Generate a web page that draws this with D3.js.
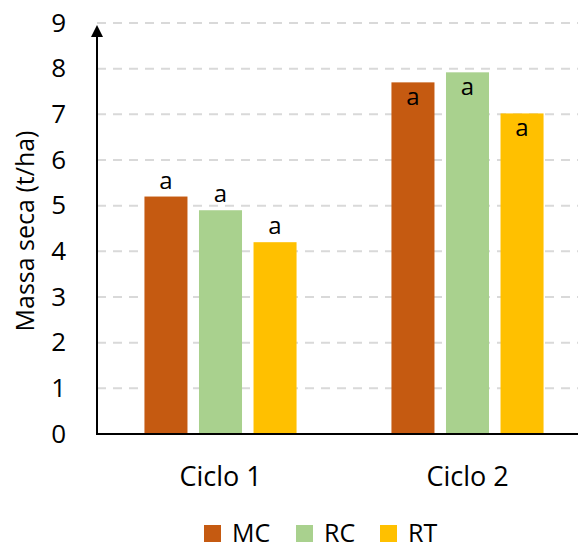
<!DOCTYPE html>
<html>
<head>
<meta charset="utf-8">
<script src="https://cdn.jsdelivr.net/npm/d3@7"></script>
<style>
  html, body { margin: 0; padding: 0; background: #fff; }
  svg { display: block; }
  text { font-family: "Open Sans", "Noto Sans", sans-serif; fill: #000; }
</style>
</head>
<body>
<svg id="chart" width="580" height="551"></svg>
<script>
// Dry mass (t/ha) per cycle and management
const cycles = ["Ciclo 1", "Ciclo 2"];
const treatments = ["MC", "RC", "RT"];
const valuesMC = [5.2, 7.7];
const valuesRC = [4.9, 7.92];
const valuesRT = [4.2, 7.02];
const letters = [["a", "a", "a"], ["a", "a", "a"]];
const yTicks = [0, 1, 2, 3, 4, 5, 6, 7, 8, 9];
const yTitle = "Massa seca (t/ha)";

const colors = { MC: "#C55A11", RC: "#A9D18E", RT: "#FFC000" };
const seriesValues = { MC: valuesMC, RC: valuesRC, RT: valuesRT };

const svg = d3.select("#chart");
const plot = { left: 97, right: 578, top: 23, bottom: 434 };

const y = d3.scaleLinear().domain([0, 9]).range([plot.bottom, plot.top]);
const x0 = d3.scaleBand().domain(cycles).range([plot.left, plot.left + 494]).paddingInner(0).paddingOuter(0);
const x1 = d3.scaleBand().domain(treatments).range([0, x0.bandwidth()]).paddingInner(0.211).paddingOuter(0.87);

// Dashed horizontal gridlines
svg.append("g")
  .selectAll("line")
  .data(yTicks.filter(t => t > 0))
  .join("line")
  .attr("x1", plot.left).attr("x2", plot.right)
  .attr("y1", d => y(d)).attr("y2", d => y(d))
  .attr("stroke", "#D9D9D9")
  .attr("stroke-width", 2)
  .attr("stroke-dasharray", "9,7");

// Bars
const groups = svg.append("g")
  .selectAll("g")
  .data(cycles)
  .join("g")
  .attr("transform", d => `translate(${x0(d)},0)`);

groups.selectAll("rect")
  .data((c, i) => treatments.map(t => ({ t, v: seriesValues[t][i] })))
  .join("rect")
  .attr("x", d => x1(d.t))
  .attr("width", x1.bandwidth())
  .attr("y", d => y(d.v))
  .attr("height", d => y(0) - y(d.v))
  .attr("fill", d => colors[d.t]);

// Significance letters: above bars in the first cycle, inside the bar top in the second
groups.selectAll("text.letter")
  .data((c, i) => treatments.map((t, j) => ({ t, v: seriesValues[t][i], l: letters[i][j], inside: i === 1 })))
  .join("text")
  .attr("class", "letter")
  .attr("x", d => x1(d.t) + x1.bandwidth() / 2)
  .attr("y", d => d.inside ? y(d.v) + 23 : y(d.v) - 8)
  .attr("text-anchor", "middle")
  .attr("font-size", 24)
  .text(d => d.l);

// Y axis with arrow head
const yAxis = d3.axisLeft(y).tickValues(yTicks).tickSize(0).tickPadding(31).tickFormat(d3.format("d"));
const gy = svg.append("g").attr("transform", `translate(${plot.left},0)`).call(yAxis);
gy.select(".domain").remove();
gy.selectAll("text").attr("font-size", 26).attr("font-family", "Open Sans").attr("fill", "#000");

svg.append("line")
  .attr("x1", plot.left).attr("x2", plot.left)
  .attr("y1", plot.bottom).attr("y2", plot.top + 12)
  .attr("stroke", "#000").attr("stroke-width", 2);
svg.append("path")
  .attr("d", `M${plot.left},${plot.top + 2} L${plot.left - 6},${plot.top + 14} L${plot.left + 6},${plot.top + 14} Z`)
  .attr("fill", "#000");

// X axis
const xAxis = d3.axisBottom(x0).tickSize(0).tickPadding(33);
const gx = svg.append("g").attr("transform", `translate(0,${plot.bottom})`).call(xAxis);
gx.select(".domain").remove();
gx.selectAll("text").attr("font-size", 27).attr("font-family", "Open Sans").attr("fill", "#000");
svg.append("line")
  .attr("x1", plot.left - 1).attr("x2", plot.right)
  .attr("y1", plot.bottom).attr("y2", plot.bottom)
  .attr("stroke", "#000").attr("stroke-width", 2);

// Y title
svg.append("text")
  .attr("transform", `translate(34,231) rotate(-90)`)
  .attr("text-anchor", "middle")
  .attr("font-size", 25)
  .text(yTitle);

// Legend
const legendX = [204, 296, 380];
const legend = svg.append("g")
  .selectAll("g")
  .data(treatments)
  .join("g")
  .attr("transform", (d, i) => `translate(${legendX[i]},525)`);
legend.append("rect").attr("width", 17).attr("height", 17).attr("fill", d => colors[d]);
legend.append("text").attr("x", 28).attr("y", 17).attr("font-size", 25).text(d => d);
</script>
</body>
</html>
